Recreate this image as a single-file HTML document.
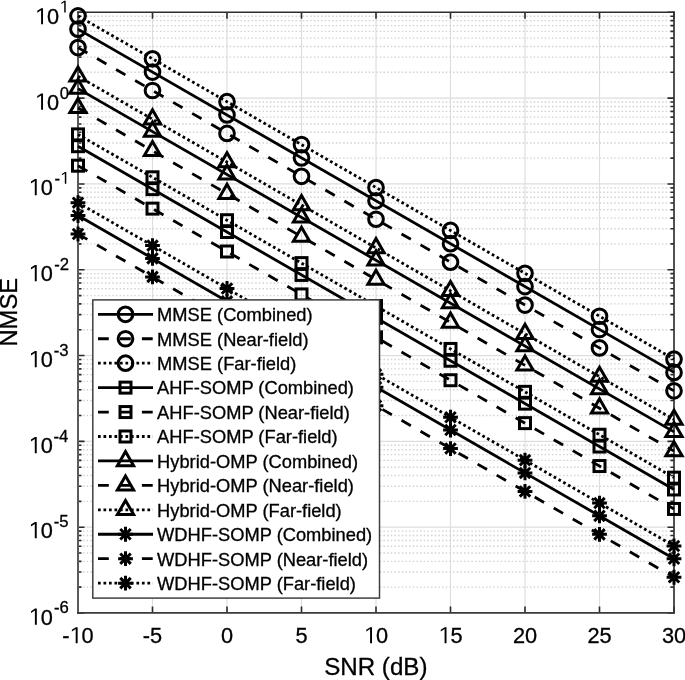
<!DOCTYPE html>
<html><head><meta charset="utf-8"><style>
html,body{margin:0;padding:0;background:#fff;}
body{width:685px;height:680px;overflow:hidden;}
svg{display:block;filter:blur(0.35px);}
svg text{font-family:"Liberation Sans",sans-serif;fill:#000;stroke:#000;stroke-width:0.3px;}
</style></head><body>
<svg width="685" height="680" viewBox="0 0 685 680">
<rect width="685" height="680" fill="#fff"/>
<path d="M78 527.19H674M78 441.37H674M78 355.56H674M78 269.74H674M78 183.93H674M78 98.11H674M152.5 12.3V613M227 12.3V613M301.5 12.3V613M376 12.3V613M450.5 12.3V613M525 12.3V613M599.5 12.3V613" stroke="#dddddd" stroke-width="1.15" fill="none"/>
<path d="M78 587.17H674M78 572.06H674M78 561.33H674M78 553.02H674M78 546.22H674M78 540.48H674M78 535.5H674M78 531.11H674M78 501.35H674M78 486.24H674M78 475.52H674M78 467.2H674M78 460.41H674M78 454.66H674M78 449.69H674M78 445.3H674M78 415.54H674M78 400.43H674M78 389.71H674M78 381.39H674M78 374.59H674M78 368.85H674M78 363.87H674M78 359.48H674M78 329.72H674M78 314.61H674M78 303.89H674M78 295.58H674M78 288.78H674M78 283.04H674M78 278.06H674M78 273.67H674M78 243.91H674M78 228.8H674M78 218.08H674M78 209.76H674M78 202.97H674M78 197.22H674M78 192.24H674M78 187.86H674M78 158.1H674M78 142.98H674M78 132.26H674M78 123.95H674M78 117.15H674M78 111.41H674M78 106.43H674M78 102.04H674M78 72.28H674M78 57.17H674M78 46.45H674M78 38.13H674M78 31.34H674M78 25.59H674M78 20.62H674M78 16.23H674" stroke="#d2d2d2" stroke-width="1.4" stroke-dasharray="1.5 2.164" stroke-dashoffset="2.344" fill="none"/>
<path d="M78 613h6.5M674 613h-6.5M78 527.19h6.5M674 527.19h-6.5M78 441.37h6.5M674 441.37h-6.5M78 355.56h6.5M674 355.56h-6.5M78 269.74h6.5M674 269.74h-6.5M78 183.93h6.5M674 183.93h-6.5M78 98.11h6.5M674 98.11h-6.5M78 12.3h6.5M674 12.3h-6.5M78 587.17h3.5M674 587.17h-3.5M78 572.06h3.5M674 572.06h-3.5M78 561.33h3.5M674 561.33h-3.5M78 553.02h3.5M674 553.02h-3.5M78 546.22h3.5M674 546.22h-3.5M78 540.48h3.5M674 540.48h-3.5M78 535.5h3.5M674 535.5h-3.5M78 531.11h3.5M674 531.11h-3.5M78 501.35h3.5M674 501.35h-3.5M78 486.24h3.5M674 486.24h-3.5M78 475.52h3.5M674 475.52h-3.5M78 467.2h3.5M674 467.2h-3.5M78 460.41h3.5M674 460.41h-3.5M78 454.66h3.5M674 454.66h-3.5M78 449.69h3.5M674 449.69h-3.5M78 445.3h3.5M674 445.3h-3.5M78 415.54h3.5M674 415.54h-3.5M78 400.43h3.5M674 400.43h-3.5M78 389.71h3.5M674 389.71h-3.5M78 381.39h3.5M674 381.39h-3.5M78 374.59h3.5M674 374.59h-3.5M78 368.85h3.5M674 368.85h-3.5M78 363.87h3.5M674 363.87h-3.5M78 359.48h3.5M674 359.48h-3.5M78 329.72h3.5M674 329.72h-3.5M78 314.61h3.5M674 314.61h-3.5M78 303.89h3.5M674 303.89h-3.5M78 295.58h3.5M674 295.58h-3.5M78 288.78h3.5M674 288.78h-3.5M78 283.04h3.5M674 283.04h-3.5M78 278.06h3.5M674 278.06h-3.5M78 273.67h3.5M674 273.67h-3.5M78 243.91h3.5M674 243.91h-3.5M78 228.8h3.5M674 228.8h-3.5M78 218.08h3.5M674 218.08h-3.5M78 209.76h3.5M674 209.76h-3.5M78 202.97h3.5M674 202.97h-3.5M78 197.22h3.5M674 197.22h-3.5M78 192.24h3.5M674 192.24h-3.5M78 187.86h3.5M674 187.86h-3.5M78 158.1h3.5M674 158.1h-3.5M78 142.98h3.5M674 142.98h-3.5M78 132.26h3.5M674 132.26h-3.5M78 123.95h3.5M674 123.95h-3.5M78 117.15h3.5M674 117.15h-3.5M78 111.41h3.5M674 111.41h-3.5M78 106.43h3.5M674 106.43h-3.5M78 102.04h3.5M674 102.04h-3.5M78 72.28h3.5M674 72.28h-3.5M78 57.17h3.5M674 57.17h-3.5M78 46.45h3.5M674 46.45h-3.5M78 38.13h3.5M674 38.13h-3.5M78 31.34h3.5M674 31.34h-3.5M78 25.59h3.5M674 25.59h-3.5M78 20.62h3.5M674 20.62h-3.5M78 16.23h3.5M674 16.23h-3.5M78 613v-6.5M78 12.3v6.5M152.5 613v-6.5M152.5 12.3v6.5M227 613v-6.5M227 12.3v6.5M301.5 613v-6.5M301.5 12.3v6.5M376 613v-6.5M376 12.3v6.5M450.5 613v-6.5M450.5 12.3v6.5M525 613v-6.5M525 12.3v6.5M599.5 613v-6.5M599.5 12.3v6.5M674 613v-6.5M674 12.3v6.5" stroke="#2a2a2a" stroke-width="1.6" fill="none"/>
<path d="M78 11.4V613.9" stroke="#5a5a5a" stroke-width="2" fill="none"/>
<path d="M674 11.5V613.8" stroke="#333" stroke-width="1.7" fill="none"/>
<path d="M77 12.3H674.8" stroke="#2e2e2e" stroke-width="1.6" fill="none"/>
<path d="M77 612.8H674.8" stroke="#3a3a3a" stroke-width="1.8" fill="none"/>
<g stroke="#000" stroke-width="2.8" fill="none"><path d="M78 15.9L674 359.16" stroke-dasharray="2.7 2.79"/><path d="M78 29.15L674 372.41"/><path d="M78 47.6L674 390.86" stroke-dasharray="10.8 11.16"/><path d="M78 76.3L674 419.56" stroke-dasharray="2.7 2.79"/><path d="M78 88.6L674 431.86"/><path d="M78 107.9L674 451.16" stroke-dasharray="10.8 11.16"/><path d="M78 134.4L674 477.66" stroke-dasharray="2.7 2.79"/><path d="M78 146.2L674 489.46"/><path d="M78 165.7L674 508.96" stroke-dasharray="10.8 11.16"/><path d="M78 202.7L674 545.96" stroke-dasharray="2.7 2.79"/><path d="M78 215.5L674 558.76"/><path d="M78 234L674 577.26" stroke-dasharray="10.8 11.16"/></g>
<g stroke="#000" stroke-width="3.0" fill="none" stroke-miterlimit="10"><circle cx="78" cy="15.9" r="7.35"/><circle cx="152.5" cy="58.81" r="7.35"/><circle cx="227" cy="101.71" r="7.35"/><circle cx="301.5" cy="144.62" r="7.35"/><circle cx="376" cy="187.53" r="7.35"/><circle cx="450.5" cy="230.44" r="7.35"/><circle cx="525" cy="273.34" r="7.35"/><circle cx="599.5" cy="316.25" r="7.35"/><circle cx="674" cy="359.16" r="7.35"/><circle cx="78" cy="29.15" r="7.35"/><circle cx="152.5" cy="72.06" r="7.35"/><circle cx="227" cy="114.96" r="7.35"/><circle cx="301.5" cy="157.87" r="7.35"/><circle cx="376" cy="200.78" r="7.35"/><circle cx="450.5" cy="243.69" r="7.35"/><circle cx="525" cy="286.59" r="7.35"/><circle cx="599.5" cy="329.5" r="7.35"/><circle cx="674" cy="372.41" r="7.35"/><circle cx="78" cy="47.6" r="7.35"/><circle cx="152.5" cy="90.51" r="7.35"/><circle cx="227" cy="133.41" r="7.35"/><circle cx="301.5" cy="176.32" r="7.35"/><circle cx="376" cy="219.23" r="7.35"/><circle cx="450.5" cy="262.14" r="7.35"/><circle cx="525" cy="305.04" r="7.35"/><circle cx="599.5" cy="347.95" r="7.35"/><circle cx="674" cy="390.86" r="7.35"/><path d="M78 66.9L86.14 81H69.86Z"/><path d="M152.5 109.81L160.64 123.91H144.36Z"/><path d="M227 152.71L235.14 166.81H218.86Z"/><path d="M301.5 195.62L309.64 209.72H293.36Z"/><path d="M376 238.53L384.14 252.63H367.86Z"/><path d="M450.5 281.44L458.64 295.54H442.36Z"/><path d="M525 324.34L533.14 338.44H516.86Z"/><path d="M599.5 367.25L607.64 381.35H591.36Z"/><path d="M674 410.16L682.14 424.26H665.86Z"/><path d="M78 79.2L86.14 93.3H69.86Z"/><path d="M152.5 122.11L160.64 136.21H144.36Z"/><path d="M227 165.01L235.14 179.11H218.86Z"/><path d="M301.5 207.92L309.64 222.02H293.36Z"/><path d="M376 250.83L384.14 264.93H367.86Z"/><path d="M450.5 293.74L458.64 307.84H442.36Z"/><path d="M525 336.64L533.14 350.74H516.86Z"/><path d="M599.5 379.55L607.64 393.65H591.36Z"/><path d="M674 422.46L682.14 436.56H665.86Z"/><path d="M78 98.5L86.14 112.6H69.86Z"/><path d="M152.5 141.41L160.64 155.51H144.36Z"/><path d="M227 184.31L235.14 198.41H218.86Z"/><path d="M301.5 227.22L309.64 241.32H293.36Z"/><path d="M376 270.13L384.14 284.23H367.86Z"/><path d="M450.5 313.04L458.64 327.14H442.36Z"/><path d="M525 355.94L533.14 370.04H516.86Z"/><path d="M599.5 398.85L607.64 412.95H591.36Z"/><path d="M674 441.76L682.14 455.86H665.86Z"/><rect x="72.5" y="128.9" width="11" height="11"/><rect x="147" y="171.81" width="11" height="11"/><rect x="221.5" y="214.71" width="11" height="11"/><rect x="296" y="257.62" width="11" height="11"/><rect x="370.5" y="300.53" width="11" height="11"/><rect x="445" y="343.44" width="11" height="11"/><rect x="519.5" y="386.34" width="11" height="11"/><rect x="594" y="429.25" width="11" height="11"/><rect x="668.5" y="472.16" width="11" height="11"/><rect x="72.5" y="140.7" width="11" height="11"/><rect x="147" y="183.61" width="11" height="11"/><rect x="221.5" y="226.51" width="11" height="11"/><rect x="296" y="269.42" width="11" height="11"/><rect x="370.5" y="312.33" width="11" height="11"/><rect x="445" y="355.24" width="11" height="11"/><rect x="519.5" y="398.14" width="11" height="11"/><rect x="594" y="441.05" width="11" height="11"/><rect x="668.5" y="483.96" width="11" height="11"/><rect x="72.5" y="160.2" width="11" height="11"/><rect x="147" y="203.11" width="11" height="11"/><rect x="221.5" y="246.01" width="11" height="11"/><rect x="296" y="288.92" width="11" height="11"/><rect x="370.5" y="331.83" width="11" height="11"/><rect x="445" y="374.74" width="11" height="11"/><rect x="519.5" y="417.64" width="11" height="11"/><rect x="594" y="460.55" width="11" height="11"/><rect x="668.5" y="503.46" width="11" height="11"/><path d="M78 195.3V210.1M70.6 202.7H85.4M72.77 197.47L83.23 207.93M72.77 207.93L83.23 197.47"/><path d="M152.5 238.21V253.01M145.1 245.61H159.9M147.27 240.37L157.73 250.84M147.27 250.84L157.73 240.37"/><path d="M227 281.11V295.91M219.6 288.51H234.4M221.77 283.28L232.23 293.75M221.77 293.75L232.23 283.28"/><path d="M301.5 324.02V338.82M294.1 331.42H308.9M296.27 326.19L306.73 336.65M296.27 336.65L306.73 326.19"/><path d="M376 366.93V381.73M368.6 374.33H383.4M370.77 369.1L381.23 379.56M370.77 379.56L381.23 369.1"/><path d="M450.5 409.84V424.64M443.1 417.24H457.9M445.27 412L455.73 422.47M445.27 422.47L455.73 412"/><path d="M525 452.74V467.54M517.6 460.14H532.4M519.77 454.91L530.23 465.38M519.77 465.38L530.23 454.91"/><path d="M599.5 495.65V510.45M592.1 503.05H606.9M594.27 497.82L604.73 508.28M594.27 508.28L604.73 497.82"/><path d="M674 538.56V553.36M666.6 545.96H681.4M668.77 540.72L679.23 551.19M668.77 551.19L679.23 540.72"/><path d="M78 208.1V222.9M70.6 215.5H85.4M72.77 210.27L83.23 220.73M72.77 220.73L83.23 210.27"/><path d="M152.5 251.01V265.81M145.1 258.41H159.9M147.27 253.17L157.73 263.64M147.27 263.64L157.73 253.17"/><path d="M227 293.91V308.71M219.6 301.31H234.4M221.77 296.08L232.23 306.55M221.77 306.55L232.23 296.08"/><path d="M301.5 336.82V351.62M294.1 344.22H308.9M296.27 338.99L306.73 349.45M296.27 349.45L306.73 338.99"/><path d="M376 379.73V394.53M368.6 387.13H383.4M370.77 381.9L381.23 392.36M370.77 392.36L381.23 381.9"/><path d="M450.5 422.64V437.44M443.1 430.04H457.9M445.27 424.8L455.73 435.27M445.27 435.27L455.73 424.8"/><path d="M525 465.54V480.34M517.6 472.94H532.4M519.77 467.71L530.23 478.18M519.77 478.18L530.23 467.71"/><path d="M599.5 508.45V523.25M592.1 515.85H606.9M594.27 510.62L604.73 521.08M594.27 521.08L604.73 510.62"/><path d="M674 551.36V566.16M666.6 558.76H681.4M668.77 553.52L679.23 563.99M668.77 563.99L679.23 553.52"/><path d="M78 226.6V241.4M70.6 234H85.4M72.77 228.77L83.23 239.23M72.77 239.23L83.23 228.77"/><path d="M152.5 269.51V284.31M145.1 276.91H159.9M147.27 271.67L157.73 282.14M147.27 282.14L157.73 271.67"/><path d="M227 312.41V327.21M219.6 319.81H234.4M221.77 314.58L232.23 325.05M221.77 325.05L232.23 314.58"/><path d="M301.5 355.32V370.12M294.1 362.72H308.9M296.27 357.49L306.73 367.95M296.27 367.95L306.73 357.49"/><path d="M376 398.23V413.03M368.6 405.63H383.4M370.77 400.4L381.23 410.86M370.77 410.86L381.23 400.4"/><path d="M450.5 441.14V455.94M443.1 448.54H457.9M445.27 443.3L455.73 453.77M445.27 453.77L455.73 443.3"/><path d="M525 484.04V498.84M517.6 491.44H532.4M519.77 486.21L530.23 496.68M519.77 496.68L530.23 486.21"/><path d="M599.5 526.95V541.75M592.1 534.35H606.9M594.27 529.12L604.73 539.58M594.27 539.58L604.73 529.12"/><path d="M674 569.86V584.66M666.6 577.26H681.4M668.77 572.02L679.23 582.49M668.77 582.49L679.23 572.02"/></g>
<rect x="92.8" y="299.9" width="286.7" height="298.2" fill="#fff" stroke="#404040" stroke-width="1.5"/>
<g stroke="#000" stroke-width="2.8" fill="none"><path d="M98 314.3H153"/><path d="M98 338.74H153" stroke-dasharray="10.8 11.16"/><path d="M98 363.18H153" stroke-dasharray="2.7 2.79"/><path d="M98 387.62H153"/><path d="M98 412.06H153" stroke-dasharray="10.8 11.16"/><path d="M98 436.5H153" stroke-dasharray="2.7 2.79"/><path d="M98 460.94H153"/><path d="M98 485.38H153" stroke-dasharray="10.8 11.16"/><path d="M98 509.82H153" stroke-dasharray="2.7 2.79"/><path d="M98 534.26H153"/><path d="M98 558.7H153" stroke-dasharray="10.8 11.16"/><path d="M98 583.14H153" stroke-dasharray="2.7 2.79"/></g>
<g stroke="#000" stroke-width="3.0" fill="none"><circle cx="125.5" cy="314.3" r="7.35"/><circle cx="125.5" cy="338.74" r="7.35"/><circle cx="125.5" cy="363.18" r="7.35"/><rect x="120" y="382.12" width="11" height="11"/><rect x="120" y="406.56" width="11" height="11"/><rect x="120" y="431" width="11" height="11"/><path d="M125.5 451.54L133.64 465.64H117.36Z"/><path d="M125.5 475.98L133.64 490.08H117.36Z"/><path d="M125.5 500.42L133.64 514.52H117.36Z"/><path d="M125.5 526.86V541.66M118.1 534.26H132.9M120.27 529.03L130.73 539.49M120.27 539.49L130.73 529.03"/><path d="M125.5 551.3V566.1M118.1 558.7H132.9M120.27 553.47L130.73 563.93M120.27 563.93L130.73 553.47"/><path d="M125.5 575.74V590.54M118.1 583.14H132.9M120.27 577.91L130.73 588.37M120.27 588.37L130.73 577.91"/></g>
<g font-size="17.5"><text transform="translate(157.1 321.1) scale(1.046 1)">MMSE (Combined)</text><text transform="translate(157.1 345.54) scale(1.046 1)">MMSE (Near-field)</text><text transform="translate(157.1 369.98) scale(1.046 1)">MMSE (Far-field)</text><text transform="translate(157.1 394.42) scale(1.046 1)">AHF-SOMP (Combined)</text><text transform="translate(157.1 418.86) scale(1.046 1)">AHF-SOMP (Near-field)</text><text transform="translate(157.1 443.3) scale(1.046 1)">AHF-SOMP (Far-field)</text><text transform="translate(157.1 467.74) scale(1.046 1)">Hybrid-OMP (Combined)</text><text transform="translate(157.1 492.18) scale(1.046 1)">Hybrid-OMP (Near-field)</text><text transform="translate(157.1 516.62) scale(1.046 1)">Hybrid-OMP (Far-field)</text><text transform="translate(157.1 541.06) scale(1.046 1)">WDHF-SOMP (Combined)</text><text transform="translate(157.1 565.5) scale(1.046 1)">WDHF-SOMP (Near-field)</text><text transform="translate(157.1 589.94) scale(1.046 1)">WDHF-SOMP (Far-field)</text></g>
<g fill="#000" stroke="#000" stroke-width="0.3"><g transform="translate(62.26 643.3) scale(0.955 1)"><text x="0" y="0" font-size="22.8">-</text><path d="M583 0H764V1450H598L223 1221V1051L583 1278Z" transform="translate(7.59 0) scale(0.01113 -0.01113)"/><text x="20.27" y="0" font-size="22.8">0</text></g><g transform="translate(142.82 643.3) scale(0.955 1)"><text x="0" y="0" font-size="22.8">-5</text></g><g transform="translate(220.95 643.3) scale(0.955 1)"><text x="0" y="0" font-size="22.8">0</text></g><g transform="translate(295.45 643.3) scale(0.955 1)"><text x="0" y="0" font-size="22.8">5</text></g><g transform="translate(363.89 643.3) scale(0.955 1)"><path d="M583 0H764V1450H598L223 1221V1051L583 1278Z" transform="translate(0 0) scale(0.01113 -0.01113)"/><text x="12.68" y="0" font-size="22.8">0</text></g><g transform="translate(438.39 643.3) scale(0.955 1)"><path d="M583 0H764V1450H598L223 1221V1051L583 1278Z" transform="translate(0 0) scale(0.01113 -0.01113)"/><text x="12.68" y="0" font-size="22.8">5</text></g><g transform="translate(512.89 643.3) scale(0.955 1)"><text x="0" y="0" font-size="22.8">20</text></g><g transform="translate(587.39 643.3) scale(0.955 1)"><text x="0" y="0" font-size="22.8">25</text></g><g transform="translate(661.89 643.3) scale(0.955 1)"><text x="0" y="0" font-size="22.8">30</text></g><g transform="translate(28.7 624.73) scale(0.955 1)"><path d="M583 0H764V1450H598L223 1221V1051L583 1278Z" transform="translate(0 0) scale(0.01113 -0.01113)"/><text x="12.68" y="0" font-size="22.8">0</text></g><g transform="translate(53.98 613.06) scale(1.0 1)"><text x="0" y="0" font-size="16.7">-6</text></g><g transform="translate(28.6 538.17) scale(0.955 1)"><path d="M583 0H764V1450H598L223 1221V1051L583 1278Z" transform="translate(0 0) scale(0.01113 -0.01113)"/><text x="12.68" y="0" font-size="22.8">0</text></g><g transform="translate(53.75 526.65) scale(1.0 1)"><text x="0" y="0" font-size="16.7">-5</text></g><g transform="translate(28.6 453.17) scale(0.955 1)"><path d="M583 0H764V1450H598L223 1221V1051L583 1278Z" transform="translate(0 0) scale(0.01113 -0.01113)"/><text x="12.68" y="0" font-size="22.8">0</text></g><g transform="translate(53.54 442.37) scale(1.0 1)"><text x="0" y="0" font-size="16.7">-4</text></g><g transform="translate(28.6 367.17) scale(0.955 1)"><path d="M583 0H764V1450H598L223 1221V1051L583 1278Z" transform="translate(0 0) scale(0.01113 -0.01113)"/><text x="12.68" y="0" font-size="22.8">0</text></g><g transform="translate(53.78 355.65) scale(1.0 1)"><text x="0" y="0" font-size="16.7">-3</text></g><g transform="translate(28.6 281.17) scale(0.955 1)"><path d="M583 0H764V1450H598L223 1221V1051L583 1278Z" transform="translate(0 0) scale(0.01113 -0.01113)"/><text x="12.68" y="0" font-size="22.8">0</text></g><g transform="translate(54.19 270.37) scale(1.0 1)"><text x="0" y="0" font-size="16.7">-2</text></g><g transform="translate(28.6 195.17) scale(0.955 1)"><path d="M583 0H764V1450H598L223 1221V1051L583 1278Z" transform="translate(0 0) scale(0.01113 -0.01113)"/><text x="12.68" y="0" font-size="22.8">0</text></g><g transform="translate(54.51 183.87) scale(1.0 1)"><text x="0" y="0" font-size="16.7">-</text><path d="M583 0H764V1450H598L223 1221V1051L583 1278Z" transform="translate(5.56 0) scale(0.00815 -0.00815)"/></g><g transform="translate(34.9 109.68) scale(0.955 1)"><path d="M583 0H764V1450H598L223 1221V1051L583 1278Z" transform="translate(0 0) scale(0.01113 -0.01113)"/><text x="12.68" y="0" font-size="22.8">0</text></g><g transform="translate(59.72 99.21) scale(1.0 1)"><text x="0" y="0" font-size="16.7">0</text></g><g transform="translate(34.9 24.37) scale(0.955 1)"><path d="M583 0H764V1450H598L223 1221V1051L583 1278Z" transform="translate(0 0) scale(0.01113 -0.01113)"/><text x="12.68" y="0" font-size="22.8">0</text></g><g transform="translate(59.47 12.62) scale(1.0 1)"><path d="M583 0H764V1450H598L223 1221V1051L583 1278Z" transform="translate(0 0) scale(0.00815 -0.00815)"/></g></g>
<text transform="translate(375.8 674.5) scale(1.015 1)" text-anchor="middle" font-size="23.8">SNR (dB)</text>
<text transform="translate(17.1 312.2) rotate(-90)" text-anchor="middle" font-size="23.8">NMSE</text>
</svg>
</body></html>
